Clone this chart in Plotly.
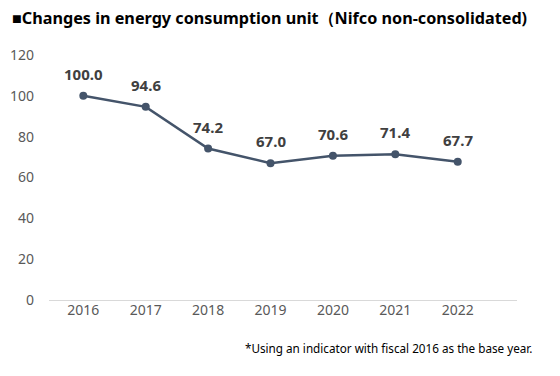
import plotly.graph_objects as go

years = ["2016", "2017", "2018", "2019", "2020", "2021", "2022"]
values = [100.0, 94.6, 74.2, 67.0, 70.6, 71.4, 67.7]
y_ticks = [0, 20, 40, 60, 80, 100, 120]
title_text = "■Changes in energy consumption unit（Nifco non-consolidated)"
note_text = "*Using an indicator with fiscal 2016 as the base year."

L, R, T, B = 49, 43, 55, 76
W, H = 560, 376
pw, ph = W - L - R, H - T - B

fig = go.Figure()
fig.add_trace(go.Scatter(
    x=list(range(len(years))), y=values,
    mode="lines+markers",
    line=dict(color="#44546A", width=2.5),
    marker=dict(color="#44546A", size=8),
    hoverinfo="skip",
))

annotations = [
    dict(x=i, y=v, xref="x", yref="y", text=f"{v:.1f}", showarrow=False,
         yshift=22, font=dict(family="Noto Sans", size=15, color="#404040", weight="bold"))
    for i, v in enumerate(values)
]
annotations.append(dict(text=title_text, x=(10 - L) / pw, y=(300 - 18) / ph,
                        xref="paper", yref="paper", showarrow=False,
                        font=dict(family="Noto Sans", size=16.2, color="#000000", weight="bold"),
                        xanchor="left", yanchor="middle"))
annotations.append(dict(text=note_text, x=(534 - L) / pw, y=(300 - 348) / ph,
                        xref="paper", yref="paper", showarrow=False,
                        font=dict(family="Noto Sans", size=11.7, color="#000000"),
                        xanchor="right", yanchor="middle"))

fig.update_layout(
    width=W, height=H,
    margin=dict(l=L, r=R, t=T, b=B, autoexpand=False),
    paper_bgcolor="white", plot_bgcolor="white",
    showlegend=False,
    font=dict(family="Noto Sans", color="#595959", size=14),
    xaxis=dict(
        range=[-0.55, 6.95], automargin=False,
        tickmode="array", tickvals=list(range(len(years))), ticktext=years,
        showgrid=False, zeroline=False, showline=False, ticks="",
        tickfont=dict(size=14, color="#595959"),
    ),
    yaxis=dict(
        range=[0, 120], automargin=False,
        tickmode="array", tickvals=y_ticks,
        showgrid=False, zeroline=True, zerolinecolor="#D9D9D9", zerolinewidth=1,
        showline=False, ticks="", ticklabelstandoff=14,
        tickfont=dict(size=14, color="#595959"),
    ),
    annotations=annotations,
)

fig.write_html("out.html", config={"displayModeBar": False},
               post_script="document.body.style.margin='0';document.body.style.padding='0';")
